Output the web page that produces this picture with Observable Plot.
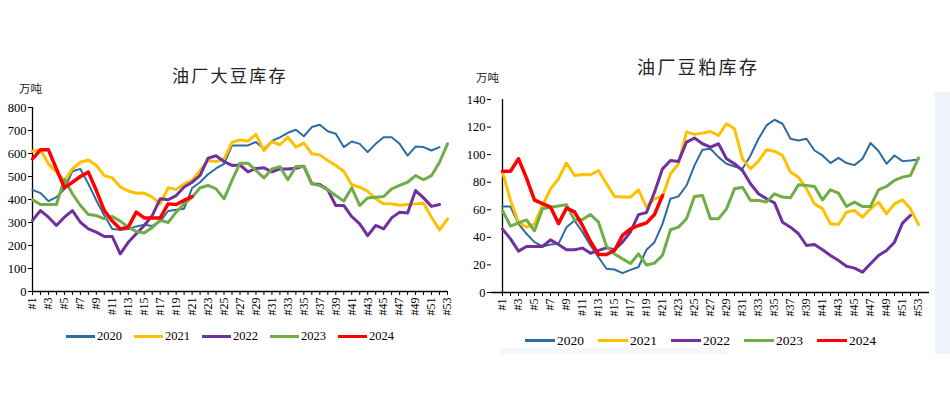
<!DOCTYPE html>
<html><head><meta charset="utf-8">
<script src="https://cdn.jsdelivr.net/npm/d3@7"></script>
<script src="https://cdn.jsdelivr.net/npm/@observablehq/plot@0.6"></script>
<style>
body{margin:0;background:#fff;}
#wrap{position:relative;width:950px;height:394px;overflow:hidden;background:#fff;font-family:"Liberation Serif","Times New Roman",serif;color:#000;}
.title{font-family:"Noto Sans CJK SC",sans-serif;white-space:nowrap;color:#222;line-height:1;}
.unit{font-family:"Noto Sans CJK SC",sans-serif;font-size:11.5px;white-space:nowrap;color:#222;line-height:1;}
.legend{display:flex;align-items:center;white-space:nowrap;line-height:1;}
.item{display:flex;align-items:center;}
.sw{display:inline-block;height:3px;margin-right:2px;}
</style></head>
<body><div id="wrap"></div>
<script>
const years = ["2020","2021","2022","2023","2024"];
const colors = ["#2E6BA0","#FFC000","#7030A0","#70AD47","#FF0000"];
const widths = [2,3,3,3,3.5];
const weekLabels = ["#1","#2","#3","#4","#5","#6","#7","#8","#9","#10","#11","#12","#13","#14","#15","#16","#17","#18","#19","#20","#21","#22","#23","#24","#25","#26","#27","#28","#29","#30","#31","#32","#33","#34","#35","#36","#37","#38","#39","#40","#41","#42","#43","#44","#45","#46","#47","#48","#49","#50","#51","#52","#53"];

// 油厂大豆库存 (万吨)
const soy2020 = [442,428,393,410,445,523,533,468,396,330,272,268,272,283,290,285,305,350,355,360,450,475,510,535,555,635,635,635,650,620,655,670,690,703,675,715,725,697,686,628,652,642,606,642,671,671,642,591,630,628,613,628];
const soy2021 = [610,616,555,519,480,533,562,572,548,504,494,455,437,427,428,410,381,451,444,468,483,526,570,565,577,649,659,654,683,613,652,638,671,628,645,599,594,570,548,523,464,454,436,403,381,381,375,378,381,384,323,268,316];
const soy2022 = [309,352,323,287,323,352,301,272,258,239,239,164,214,251,287,330,403,399,417,454,475,505,580,590,565,548,550,520,535,538,520,533,533,536,545,468,465,442,374,374,326,294,243,287,272,320,345,341,439,407,370,378];
const soy2023 = [399,378,378,378,488,425,374,335,330,316,326,306,280,261,254,278,310,300,345,381,410,451,461,446,403,483,558,558,526,494,533,543,486,543,545,468,461,442,417,393,451,374,407,410,413,446,461,475,504,486,504,562,642];
const soy2024 = [577,616,616,533,451,475,500,519,439,352,306,272,280,345,320,320,320,381,378,396,413];
const soyTicks = [0,100,200,300,400,500,600,700,800];

// 油厂豆粕库存 (万吨)
const meal2020 = [62.4,62.4,49.8,42.6,36.5,33.4,34.8,35.3,47.4,52.2,43.8,34.1,25.6,17.2,16.7,14,16.4,18.5,31,36.5,49.8,68,69.7,77.6,92.2,103.5,104.3,98.2,93.4,91.4,89.7,99.4,111.5,121.2,125.3,122.4,111.5,110.3,111.5,103,99.4,93.9,97.7,93.9,92.4,97,108.4,102.6,93.4,99.4,95.3,95.8,96.5];
const meal2021 = [87.5,66.8,51,47.4,49.8,63.1,75.2,82.5,93.9,84.9,85.6,85.4,88.5,78.9,69.7,69.2,69.2,74.5,61.9,68,69.7,86.1,93.4,116.4,114.7,115.6,116.8,113.9,122.4,118.8,97,89.7,95.3,103.5,102.5,99.4,87.3,83.7,75.2,64.3,60.7,49.8,49.3,58.3,59.5,54.7,60.7,65.6,57.1,64.3,67.2,60.7,49.3];
const meal2022 = [46,38.9,30,33.4,33.4,33.4,38.2,34.8,31,31,32.2,28.5,30.5,32.4,31,36.5,44,56.5,58,72.8,89.7,95.8,95.1,109.1,112,107.9,105.5,107.9,97,93.4,88.5,78.9,71.6,68,65,51,47.4,42.6,34.1,34.8,31,26.9,23.2,19.1,17.7,14.8,20.8,26.9,30.5,36.5,50.3,55.9];
const meal2023 = [59.5,48.2,50.5,52.7,44.8,60.7,61.9,62.8,63.7,52.5,53,56.6,51,33.5,28,24.4,21,28,20,21.3,27,45.5,47.4,53.5,69.7,70.4,53.5,53.5,60.7,75.2,76.4,66.8,66.8,65.6,71.6,69.2,68.7,78.1,77.6,76.9,67.2,74.5,72.1,62.4,65.6,62.4,62.4,74.5,76.9,81.3,83.7,84.9,97.7];
const meal2024 = [88,88,97,83,67,64.5,62,50,61.2,58.5,48.6,37,27.6,27.6,30.5,41.4,46.2,48.6,50.5,56.6,70.4];
const mealTicks = [0,20,40,60,80,100,120,140];

const wrap = document.getElementById("wrap");

function add(el, css){ el.style.position = "absolute"; Object.assign(el.style, css); wrap.appendChild(el); return el; }

function makeChart(series, o){
  const rows = [];
  series.forEach((arr, k) => arr.forEach((v, i) => rows.push({week: weekLabels[i], value: v, year: years[k]})));
  const chart = Plot.plot({
    width: o.width, height: o.height,
    marginLeft: o.ml, marginRight: o.mr, marginTop: o.mt, marginBottom: o.mb,
    style: {fontFamily: '"Liberation Serif","Times New Roman",serif', fontSize: "12.5px", color: "#000", background: "transparent", overflow: "visible"},
    x: {type: "point", domain: weekLabels, padding: 0},
    y: {domain: [o.yTicks[0], o.yTicks[o.yTicks.length-1]]},
    marks: [
      Plot.axisY({ticks: o.yTicks, tickSize: 4, tickPadding: 2, label: null, fontSize: 12.5}),
      Plot.axisX({ticks: weekLabels, tickSize: 4, tickPadding: 2, tickRotate: -90, label: null, fontSize: 12,
        tickFormat: d => weekLabels.indexOf(d) % 2 === 0 ? d : ""}),
      Plot.ruleX([weekLabels[0]], {stroke: "#000", strokeWidth: 1.3}),
      Plot.ruleY([o.yTicks[0]], {stroke: "#000", strokeWidth: 1.3}),
      ...years.map((y, k) => Plot.line(rows.filter(r => r.year === y), {x: "week", y: "value", stroke: colors[k], strokeWidth: widths[k], strokeLinejoin: "round", strokeLinecap: "round"}))
    ]
  });
  add(chart, {left: o.left + "px", top: o.top + "px"});
  return chart;
}

// faint background artifacts
add(document.createElement("div"), {left: "935px", top: "92px", width: "15px", height: "262px", background: "#eef3f9"});
add(document.createElement("div"), {left: "500px", top: "348px", width: "228px", height: "7px", background: "#f4f7fb"});

makeChart([soy2020, soy2021, soy2022, soy2023, soy2024], {left: 0, top: 95, width: 460, height: 240, ml: 32, mr: 13, mt: 12, mb: 44, yTicks: soyTicks});
makeChart([meal2020, meal2021, meal2022, meal2023, meal2024], {left: 460, top: 85, width: 490, height: 250, ml: 31, mr: 21, mt: 14, mb: 43, yTicks: mealTicks});

function text(cls, str, css){ const d = document.createElement("div"); d.className = cls; d.textContent = str; return add(d, css); }
text("title", "油厂大豆库存", {left: "172px", top: "66px", fontSize: "17px", letterSpacing: "2.3px"});
text("title", "油厂豆粕库存", {left: "637px", top: "57px", fontSize: "18px", letterSpacing: "2.4px"});
text("unit", "万吨", {left: "19px", top: "83px"});
text("unit", "万吨", {left: "476px", top: "72px"});

function legend(left, top, swW, gap, fs){
  const L = document.createElement("div"); L.className = "legend";
  years.forEach((y, k) => {
    const it = document.createElement("div"); it.className = "item"; it.style.marginRight = gap + "px";
    const sw = document.createElement("span"); sw.className = "sw"; sw.style.width = swW + "px"; sw.style.background = colors[k];
    const t = document.createElement("span"); t.textContent = y; t.style.fontSize = fs + "px";
    it.appendChild(sw); it.appendChild(t); L.appendChild(it);
  });
  add(L, {left: left + "px", top: top + "px"});
}
legend(66, 330, 29, 12, 12.5);
legend(525, 334, 30, 14, 13.5);
</script>
</body></html>
